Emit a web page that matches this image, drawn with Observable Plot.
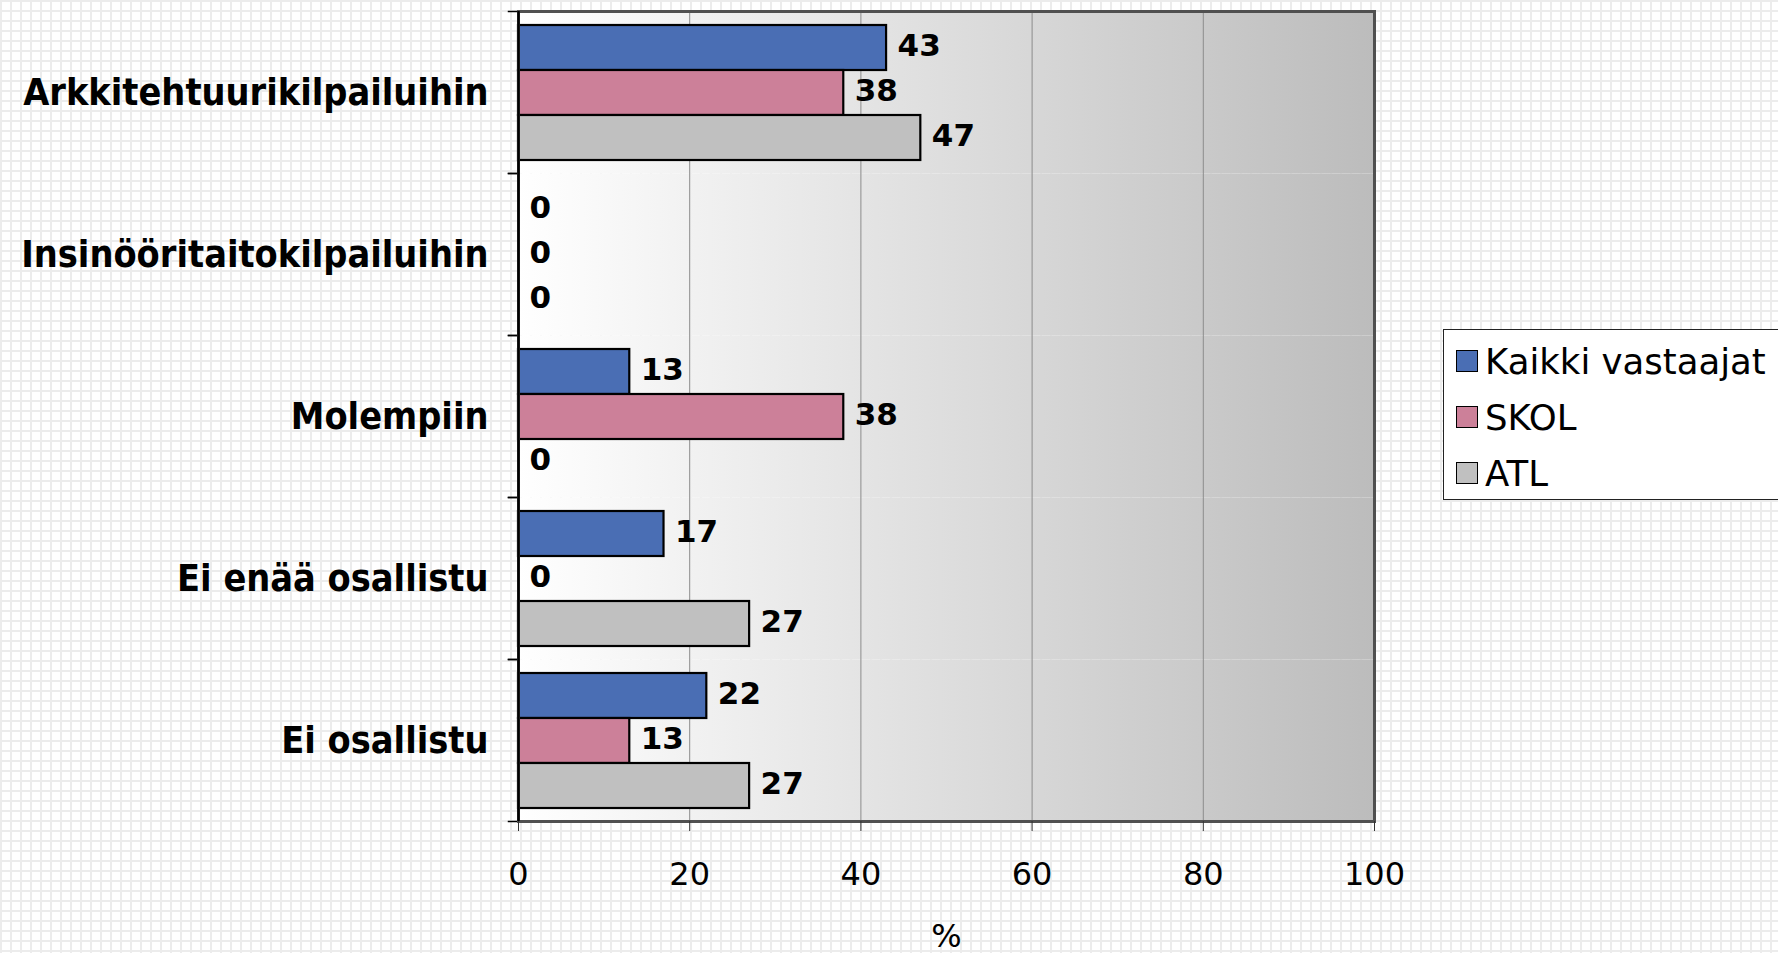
<!DOCTYPE html>
<html>
<head>
<meta charset="utf-8">
<script src="https://cdn.jsdelivr.net/npm/d3@7"></script>
<script src="https://cdn.jsdelivr.net/npm/@observablehq/plot@0.6"></script>
<style>
  html, body { margin: 0; padding: 0; }
  body {
    width: 1778px; height: 953px; overflow: hidden; position: relative;
    background-color: #fff;
    background-image:
      linear-gradient(to right, #ececec 2px, transparent 2px),
      linear-gradient(to bottom, #ececec 2px, transparent 2px);
    background-size: 10px 10px;
  }
  #chart { position: absolute; left: 0; top: 0; }
  #legend {
    position: absolute; left: 1443px; top: 329px; width: 340px; height: 171px;
    box-sizing: border-box; border: 1.5px solid #222; background: #fff;
    font-family: "DejaVu Sans", Verdana, sans-serif; font-size: 35.5px; color: #000;
    padding-top: 3px;
  }
  .row { display: flex; align-items: center; height: 56px; }
  .sw { width: 20px; height: 20px; border: 1.5px solid #000; margin-left: 12px; margin-right: 7px; }
</style>
</head>
<body>
<div id="chart"></div>
<div id="legend"></div>
<script>
const categories = ["Arkkitehtuurikilpailuihin", "Insinööritaitokilpailuihin", "Molempiin", "Ei enää osallistu", "Ei osallistu"];
const series = ["Kaikki vastaajat", "SKOL", "ATL"];
const kaikkiVastaajat = [43, 0, 13, 17, 22];
const skol = [38, 0, 38, 0, 13];
const atl = [47, 0, 0, 27, 27];
const colors = ["#4a6eb4", "#cc8099", "#c0c0c0"];
const xTicks = [0, 20, 40, 60, 80, 100];
const gridTicks = [20, 40, 60, 80];

const seriesValues = [kaikkiVastaajat, skol, atl];
const rows = [];
categories.forEach((c, i) => {
  series.forEach((s, j) => rows.push({category: c, series: s, value: seriesValues[j][i]}));
});

const plotWidth = 1778 - 518 - 404;

const chart = Plot.plot({
  width: 1778,
  height: 953,
  marginLeft: 518,
  marginRight: 404,
  marginTop: 9,
  marginBottom: 131,
  style: {background: "transparent", fontFamily: "DejaVu Sans", color: "#000", overflow: "visible"},
  x: {domain: [0, 100]},
  y: {domain: series, paddingInner: 0, paddingOuter: 0.3, axis: null},
  fy: {domain: categories, padding: 0},
  color: {domain: series, range: colors},
  marks: [
    Plot.frame({fill: "url(#bgGrad)", stroke: "none"}),
    Plot.ruleX(gridTicks, {stroke: "#8c8c8c", strokeWidth: 1}),
    Plot.barX(rows, {x: "value", y: "series", fy: "category", fill: "series", stroke: "#000", strokeWidth: 2.2}),
    Plot.text(rows, {x: "value", y: "series", fy: "category", text: d => String(d.value), dx: 11, dy: -2, textAnchor: "start", fontWeight: "bold", fontSize: 31, fontFamily: "DejaVu Sans", fill: "#000"}),
    Plot.frame({anchor: "top", insetLeft: -10, insetRight: plotWidth, stroke: "#000", strokeWidth: 1.5}),
    Plot.frame({anchor: "bottom", insetLeft: -10, insetRight: plotWidth, stroke: "#000", strokeWidth: 1.5}),
    Plot.frame({facet: "super", stroke: "#505050", strokeWidth: 3, fill: "none"}),
    Plot.ruleX([0], {stroke: "#000", strokeWidth: 2.5}),
    Plot.axisX({ticks: xTicks, tickSize: 10, tickPadding: 31, fontSize: 32, fontFamily: "DejaVu Sans", stroke: "#333", label: "%", labelAnchor: "center", labelOffset: 125, labelArrow: "none"}),
    Plot.axisFy({anchor: "left", tickSize: 0, tickPadding: 30, fontSize: 37.5, fontWeight: "bold", fontFamily: "'DejaVu Sans Condensed', 'DejaVu Sans'", label: null})
  ]
});

const svg = d3.select(chart.tagName.toLowerCase() === "svg" ? chart : chart.querySelector("svg"));
const grad = svg.insert("defs", ":first-child").append("linearGradient").attr("id", "bgGrad").attr("x1", "0").attr("x2", "1").attr("y1", "0").attr("y2", "0");
grad.append("stop").attr("offset", "0").attr("stop-color", "#ffffff");
grad.append("stop").attr("offset", "1").attr("stop-color", "#bcbcbc");

document.getElementById("chart").appendChild(chart);

const legend = d3.select("#legend");
series.forEach((s, i) => {
  const r = legend.append("div").attr("class", "row");
  r.append("div").attr("class", "sw").style("background", colors[i]);
  r.append("span").text(s);
});
</script>
</body>
</html>
